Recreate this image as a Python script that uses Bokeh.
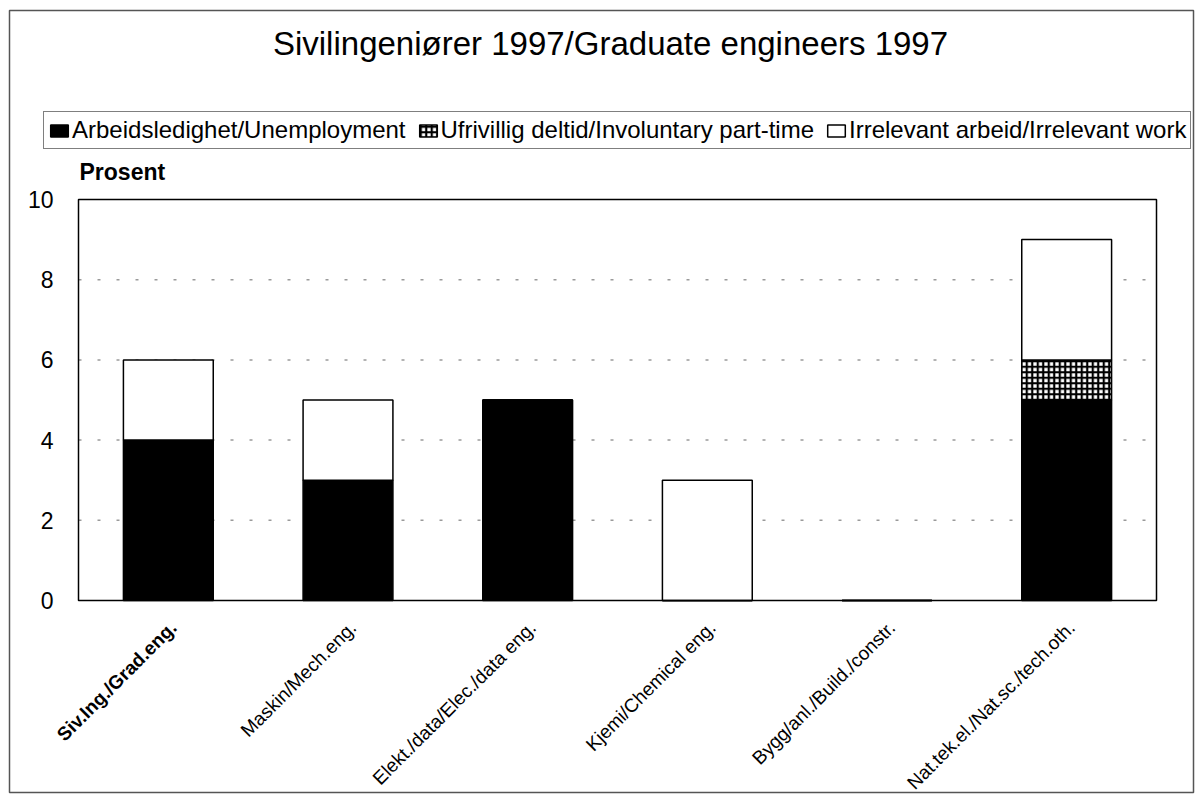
from bokeh.plotting import figure
from bokeh.models import Legend, LegendItem, ColumnDataSource, Range1d
from bokeh.core.properties import value
from bokeh.embed import file_html
from bokeh.resources import INLINE
import math

categories = ["Siv.Ing./Grad.eng.", "Maskin/Mech.eng.", "Elekt./data/Elec./data eng.",
              "Kjemi/Chemical eng.", "Bygg/anl./Build./constr.", "Nat.tek.el./Nat.sc./tech.oth."]
unemployment = [4, 3, 5, 0, 0, 5]
parttime = [0, 0, 0, 0, 0, 1]
irrelevant = [2, 2, 0, 3, 0, 3]
y_ticks = [0, 2, 4, 6, 8, 10]
label_styles = ["bold", "normal", "normal", "normal", "normal", "normal"]

series_names = ["Arbeidsledighet/Unemployment", "Ufrivillig deltid/Involuntary part-time",
                "Irrelevant arbeid/Irrelevant work"]
title_text = "Sivilingeniører 1997/Graduate engineers 1997"
y_title = "Prosent"

FONT = value("Liberation Sans")

# canvas layout (pixels)
W, H = 1198, 794
BOX_L, BOX_R, BOX_T, BOX_B = 78, 1156, 199, 600
FRAME_L, FRAME_R, FRAME_T, FRAME_B = 9, 1193, 10, 792

n = len(categories)
ymin, ymax = y_ticks[0], y_ticks[-1]
px_x = (BOX_R - BOX_L) / n
px_y = (BOX_B - BOX_T) / (ymax - ymin)
x0 = -BOX_L / px_x
y1 = ymax + BOX_T / px_y
x_range = Range1d(x0, n + (W - BOX_R) / px_x)
y_range = Range1d(ymin - (H - BOX_B) / px_y, y1)

centers = [i + 0.5 for i in range(n)]
b1 = [0] * n
t1 = [b + v for b, v in zip(b1, unemployment)]
t2 = [b + v for b, v in zip(t1, parttime)]
t3 = [b + v for b, v in zip(t2, irrelevant)]

src = ColumnDataSource(dict(x=centers, cat=categories, b1=b1, t1=t1, t2=t2, t3=t3,
                            style=label_styles, y0=[ymin] * n))

p = figure(width=W, height=H, x_range=x_range, y_range=y_range,
           output_backend="svg", toolbar_location=None, min_border=0)
p.axis.visible = False
p.grid.visible = False
p.outline_line_color = None

# outer chart border
p.quad(left=[x0 + FRAME_L / px_x], right=[x0 + FRAME_R / px_x],
       top=[y1 - FRAME_T / px_y], bottom=[y1 - FRAME_B / px_y],
       fill_color=None, line_color="#555555", line_width=1.5)

# dotted grid lines
grid_vals = y_ticks[1:-1]
p.segment(x0=[0] * len(grid_vals), x1=[n] * len(grid_vals), y0=grid_vals, y1=grid_vals,
          line_color="#9a9a9a", line_dash="3 16", line_width=1.5)

r1 = p.vbar(x="x", bottom="b1", top="t1", width=0.5, source=src,
            fill_color="black", line_color="black", line_width=1.5)
r2 = p.vbar(x="x", bottom="t1", top="t2", width=0.5, source=src,
            fill_color="white", line_color="black", line_width=1.5,
            hatch_pattern="+", hatch_color="black", hatch_scale=5.5, hatch_weight=2.2)
r3 = p.vbar(x="x", bottom="t2", top="t3", width=0.5, source=src,
            fill_color="white", line_color="black", line_width=1.5)

# plot box
p.quad(left=[0], right=[n], bottom=[ymin], top=[ymax], fill_color=None,
       line_color="black", line_width=1.5)

# y tick labels
p.text(x=[0] * len(y_ticks), y=y_ticks, text=[str(t) for t in y_ticks],
       x_offset=-25, text_align="right", text_baseline="middle",
       text_font=FONT, text_font_size="23px", text_color="black")

# category labels
p.text(x="x", y="y0", text="cat", source=src, angle=math.pi / 4,
       x_offset=5, y_offset=24, text_align="right", text_baseline="middle",
       text_font=FONT, text_font_size="19px", text_font_style="style", text_color="black")

# y title
p.text(x=[0], y=[ymax], text=[y_title], x_offset=1, y_offset=-15,
       text_align="left", text_baseline="bottom", text_font=FONT,
       text_font_size="23px", text_font_style="bold", text_color="black")

# chart title
p.text(x=[n / 2], y=[ymax], text=[title_text], x_offset=-7, y_offset=-156,
       text_align="center", text_baseline="alphabetic", text_font=FONT,
       text_font_size="33px", text_color="black")

legend = Legend(items=[LegendItem(label=series_names[0], renderers=[r1]),
                       LegendItem(label=series_names[1], renderers=[r2]),
                       LegendItem(label=series_names[2], renderers=[r3])],
                orientation="horizontal", location=(43, H - 149),
                label_text_font="Liberation Sans", label_text_font_size="24px",
                label_text_color="black",
                glyph_width=22, glyph_height=15, label_standoff=2, spacing=11,
                padding=4, margin=0, border_line_color="black", border_line_width=1.5,
                label_height=24)
p.add_layout(legend, "center")

open("out.html", "w").write(file_html(p, INLINE))
